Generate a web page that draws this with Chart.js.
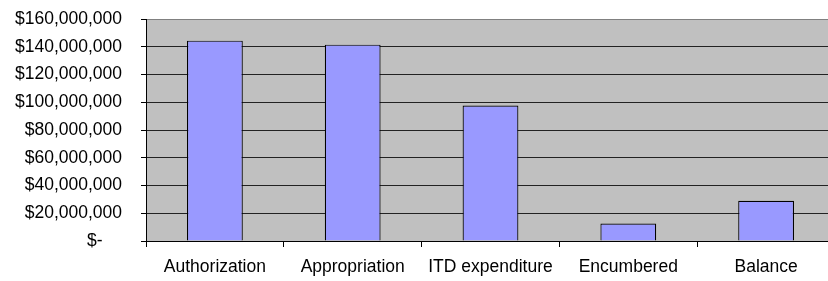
<!DOCTYPE html>
<html>
<head>
<meta charset="utf-8">
<script src="https://cdn.jsdelivr.net/npm/chart.js@4/dist/chart.umd.min.js"></script>
<style>
html,body{margin:0;padding:0;background:#fff;overflow:hidden;width:828px;height:281px;}
#wrap{width:835px;height:281px;position:relative;}
</style>
</head>
<body>
<div id="wrap"><canvas id="c"></canvas></div>
<script>
const categories = ["Authorization", "Appropriation", "ITD expenditure", "Encumbered", "Balance"];
const amounts = [144400000, 141500000, 97700000, 12600000, 29000000];
const yTicks = [0, 20000000, 40000000, 60000000, 80000000, 100000000, 120000000, 140000000, 160000000];

const FONT = "'Liberation Sans', Arial, sans-serif";

const plotBg = {
  id: 'plotBg',
  beforeDraw(chart) {
    const a = chart.chartArea, ctx = chart.ctx;
    ctx.save();
    ctx.fillStyle = '#C0C0C0';
    ctx.fillRect(a.left, a.top, a.right - a.left, a.bottom - a.top);
    ctx.restore();
  }
};

function fmt(v) {
  if (v === 0) return '$-    ';
  return '$' + v.toLocaleString('en-US');
}

new Chart(document.getElementById('c'), {
  type: 'bar',
  data: {
    labels: categories,
    datasets: [{
      data: amounts,
      backgroundColor: '#9999FF',
      borderColor: '#000000',
      borderWidth: 1.2,
      categoryPercentage: 1,
      barPercentage: 0.405
    }]
  },
  options: {
    responsive: true,
    maintainAspectRatio: false,
    animation: false,
    devicePixelRatio: 1,
    layout: { padding: { top: 19, left: 0, right: 0, bottom: 0 } },
    plugins: { legend: { display: false }, tooltip: { enabled: false } },
    scales: {
      x: {
        grid: { drawOnChartArea: false, color: '#000', tickLength: 6, offset: true },
        border: { color: '#000', width: 1 },
        ticks: { color: '#000', font: { family: FONT, size: 17.5 }, padding: 10, maxRotation: 0, autoSkip: false },
        afterFit(s) { s.height = 40; s.paddingLeft = 0; s.paddingRight = 0; }
      },
      y: {
        min: 0, max: 160000000,
        afterBuildTicks(s) { s.ticks = yTicks.map(v => ({ value: v })); },
        grid: {
          color: ctx => (ctx.tick && ctx.tick.value === 160000000) ? '#808080' : '#222222',
          tickColor: '#000',
          tickLength: 5
        },
        border: { color: '#000', width: 1 },
        ticks: { color: '#000', font: { family: FONT, size: 17.5 }, padding: 19, callback: v => fmt(v) },
        afterFit(s) { s.width = 146; s.paddingTop = 0; s.paddingBottom = 0; }
      }
    }
  },
  plugins: [plotBg]
});
</script>
</body>
</html>
